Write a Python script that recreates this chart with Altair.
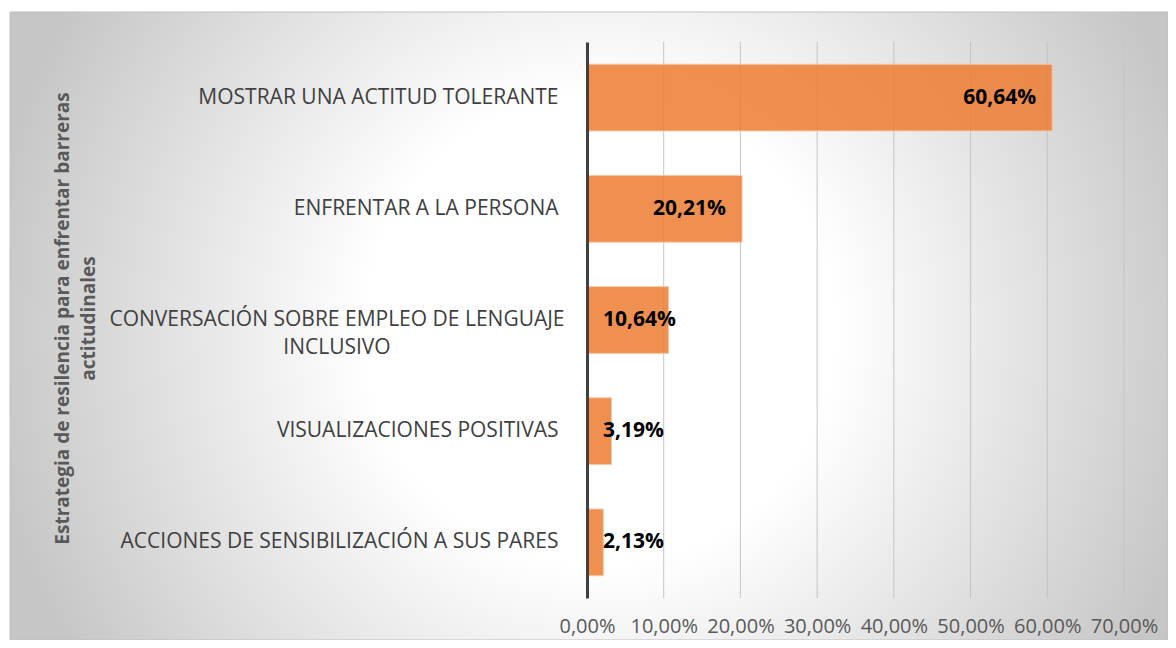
import altair as alt
import pandas as pd

# ---- data ----
categories = [
    "MOSTRAR UNA ACTITUD TOLERANTE",
    "ENFRENTAR A LA PERSONA",
    "CONVERSACIÓN SOBRE EMPLEO DE LENGUAJE|INCLUSIVO",
    "VISUALIZACIONES POSITIVAS",
    "ACCIONES DE SENSIBILIZACIÓN A SUS PARES",
]
values = [60.64, 20.21, 10.64, 3.19, 2.13]
value_labels = ["60,64%", "20,21%", "10,64%", "3,19%", "2,13%"]
x_ticks = [0, 10, 20, 30, 40, 50, 60, 70]
axis_title = ["Estrategia de resilencia para enfrentar barreras", "actitudinales"]

df = pd.DataFrame({"cat": categories, "v": values, "lbl": value_labels})
ticks_df = pd.DataFrame({"t": x_ticks})

W, H = 537, 556
FONT = "Open Sans"

x_scale = alt.Scale(domain=[0, 70], nice=False, zero=True)
y_scale = alt.Scale(domain=categories, paddingInner=0.4, paddingOuter=0.2)

x_axis = alt.Axis(
    values=x_ticks,
    labelExpr="replace(format(datum.value, '.2f'), '.', ',') + '%'",
    grid=False, domain=False, ticks=False,
    labelFont=FONT, labelFontSize=20, labelColor="#595959",
    labelPadding=18, labelOverlap=False, labelFlush=False, labelAlign="center",
    title=None, zindex=1,
)

y_axis = alt.Axis(
    title=axis_title,
    labelExpr="indexof(datum.label, '|') >= 0 ? '' : datum.label",
    labelAlign="right", labelBaseline="middle",
    labelFont=FONT, labelFontSize=21, labelColor="#404040",
    labelLimit=800, labelPadding=29,
    ticks=False, grid=False,
    domainColor="#404040", domainWidth=3,
    titleFont=FONT, titleFontSize=19, titleFontWeight="bold",
    titleColor="#595959", titleAngle=270, titleAlign="center",
    titleBaseline="middle", titleX=-525, titleY=276, titleLineHeight=26,
    zindex=1,
)

gradient = {
    "gradient": "radial",
    "x1": 0.51, "y1": 0.503, "r1": 0,
    "x2": 0.51, "y2": 0.503, "r2": 0.535,
    "stops": [
        {"offset": 0.0, "color": "#ffffff"},
        {"offset": 0.38, "color": "#ffffff"},
        {"offset": 1.0, "color": "#c6c6c6"},
    ],
}

bg = alt.Chart(alt.Data(values=[{"a": 1}])).mark_rect(
    fill=gradient, stroke="#c0c0c0", strokeWidth=1
).encode(
    x=alt.value(-577), x2=alt.value(581), y=alt.value(-30), y2=alt.value(598)
)

grid = alt.Chart(ticks_df).mark_rule(color="#c4c4c4", strokeWidth=1).encode(
    x=alt.X("t:Q", scale=x_scale, axis=x_axis)
)

bars = alt.Chart(df).mark_bar(
    color="#ED7D31", fillOpacity=0.85, stroke="#F7C7A4", strokeWidth=1
).encode(
    x=alt.X("v:Q", scale=x_scale, axis=x_axis),
    y=alt.Y("cat:N", sort=None, scale=y_scale, axis=y_axis),
)

# wrapped category label: two centred lines
wrapped = alt.Chart(df).transform_filter(
    "indexof(datum.cat, '|') >= 0"
).mark_text(
    align="center", baseline="middle", dx=-250, lineBreak="|", lineHeight=28,
    font=FONT, fontSize=21, color="#404040",
).encode(
    x=alt.datum(0, scale=x_scale),
    y=alt.Y("cat:N", sort=None, scale=y_scale),
    text="cat:N",
)

text_style = dict(baseline="middle", font=FONT, fontWeight="bold", fontSize=21, color="#000000")

t_inside = alt.Chart(df).transform_filter("datum.v > 15").mark_text(
    align="right", dx=-16, **text_style
).encode(
    x=alt.X("v:Q", scale=x_scale),
    y=alt.Y("cat:N", sort=None, scale=y_scale),
    text="lbl:N",
)

t_base = alt.Chart(df).transform_filter("datum.v <= 15").mark_text(
    align="left", dx=16, **text_style
).encode(
    x=alt.datum(0, scale=x_scale),
    y=alt.Y("cat:N", sort=None, scale=y_scale),
    text="lbl:N",
)

chart = alt.layer(bg, grid, bars, wrapped, t_inside, t_base).properties(
    width=W, height=H,
    autosize=alt.AutoSizeParams(type="none"),
    padding={"left": 579, "top": 34, "right": 44, "bottom": 42},
).configure_view(stroke=None)

chart.save("out.html", embed_options={"renderer": "svg", "actions": False})
